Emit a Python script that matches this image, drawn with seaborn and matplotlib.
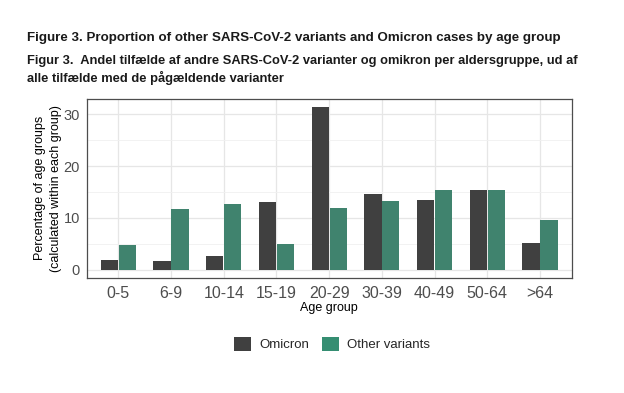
import numpy as np
import pandas as pd
import matplotlib.pyplot as plt
import seaborn as sns
from matplotlib.patches import Patch
from matplotlib.ticker import MultipleLocator

# ============================================================
# DATA
# ============================================================

age_groups = ["0-5", "6-9", "10-14", "15-19", "20-29", "30-39", "40-49", "50-64", ">64"]
omicron = [1.9, 1.7, 2.75, 13.0, 31.3, 14.7, 13.5, 15.3, 5.1]
other_variants = [4.7, 11.7, 12.6, 4.9, 12.0, 13.2, 15.3, 15.3, 9.6]
series_names = ["Omicron", "Other variants"]
colors = ["#404040", "#358e72"]

df = pd.DataFrame({
    "age": age_groups * 2,
    "pct": omicron + other_variants,
    "variant": [series_names[0]] * len(age_groups) + [series_names[1]] * len(age_groups),
})

# ============================================================
# PLOT
# ============================================================

sns.set_style("white")
plt.rcParams["font.family"] = ["Liberation Sans", "DejaVu Sans"]

fig = plt.figure(figsize=(6.24, 3.93), dpi=100)
ax = fig.add_axes([0.139, 0.2934, 0.777, 0.4546])

sns.barplot(
    data=df, x="age", y="pct", hue="variant",
    order=age_groups, hue_order=series_names,
    palette=colors, width=0.68, gap=0.04,
    edgecolor="none", legend=False, ax=ax,
)

ax.set_xlim(-0.6, len(age_groups) - 0.4)
ax.set_ylim(-1.5, 32.9)
ax.yaxis.set_major_locator(MultipleLocator(10))
ax.yaxis.set_minor_locator(MultipleLocator(5))

ax.set_axisbelow(True)
ax.grid(True, which="major", color="#e6e6e6", linewidth=0.9)
ax.grid(True, which="minor", axis="y", color="#f0f0f0", linewidth=0.6)

for s in ax.spines.values():
    s.set_color("#4d4d4d")
    s.set_linewidth(0.9)

ax.tick_params(axis="both", which="major", length=3, width=0.8, color="#4d4d4d")
ax.tick_params(axis="both", which="minor", length=0)
ax.tick_params(axis="x", labelsize=11.5, labelcolor="#4d4d4d", pad=3)
ax.tick_params(axis="y", labelsize=10.5, labelcolor="#4d4d4d", pad=2)

ax.set_xlabel("Age group", fontsize=9, color="black", labelpad=1)
ax.set_ylabel("Percentage of age groups\n(calculated within each group)",
              fontsize=9, color="black", labelpad=1, linespacing=1.45)

# titles
fig.text(0.043, 0.904, "Figure 3. Proportion of other SARS-CoV-2 variants and Omicron cases by age group",
         fontsize=9.6, fontweight="bold", color="#1a1a1a", va="center")
fig.text(0.043, 0.822, "Figur 3.  Andel tilfælde af andre SARS-CoV-2 varianter og omikron per aldersgruppe, ud af\nalle tilfælde med de pågældende varianter",
         fontsize=9.3, fontweight="bold", color="#1a1a1a", va="center", linespacing=1.3)

# legend
handles = [Patch(facecolor=c, edgecolor="none") for c in colors]
fig.legend(handles, series_names, loc="center", bbox_to_anchor=(0.532, 0.125),
           ncol=2, frameon=False, fontsize=9.5, handlelength=1.3, handleheight=1.3,
           handletextpad=0.6, columnspacing=1.0)

fig.savefig("out.png", dpi=100)
